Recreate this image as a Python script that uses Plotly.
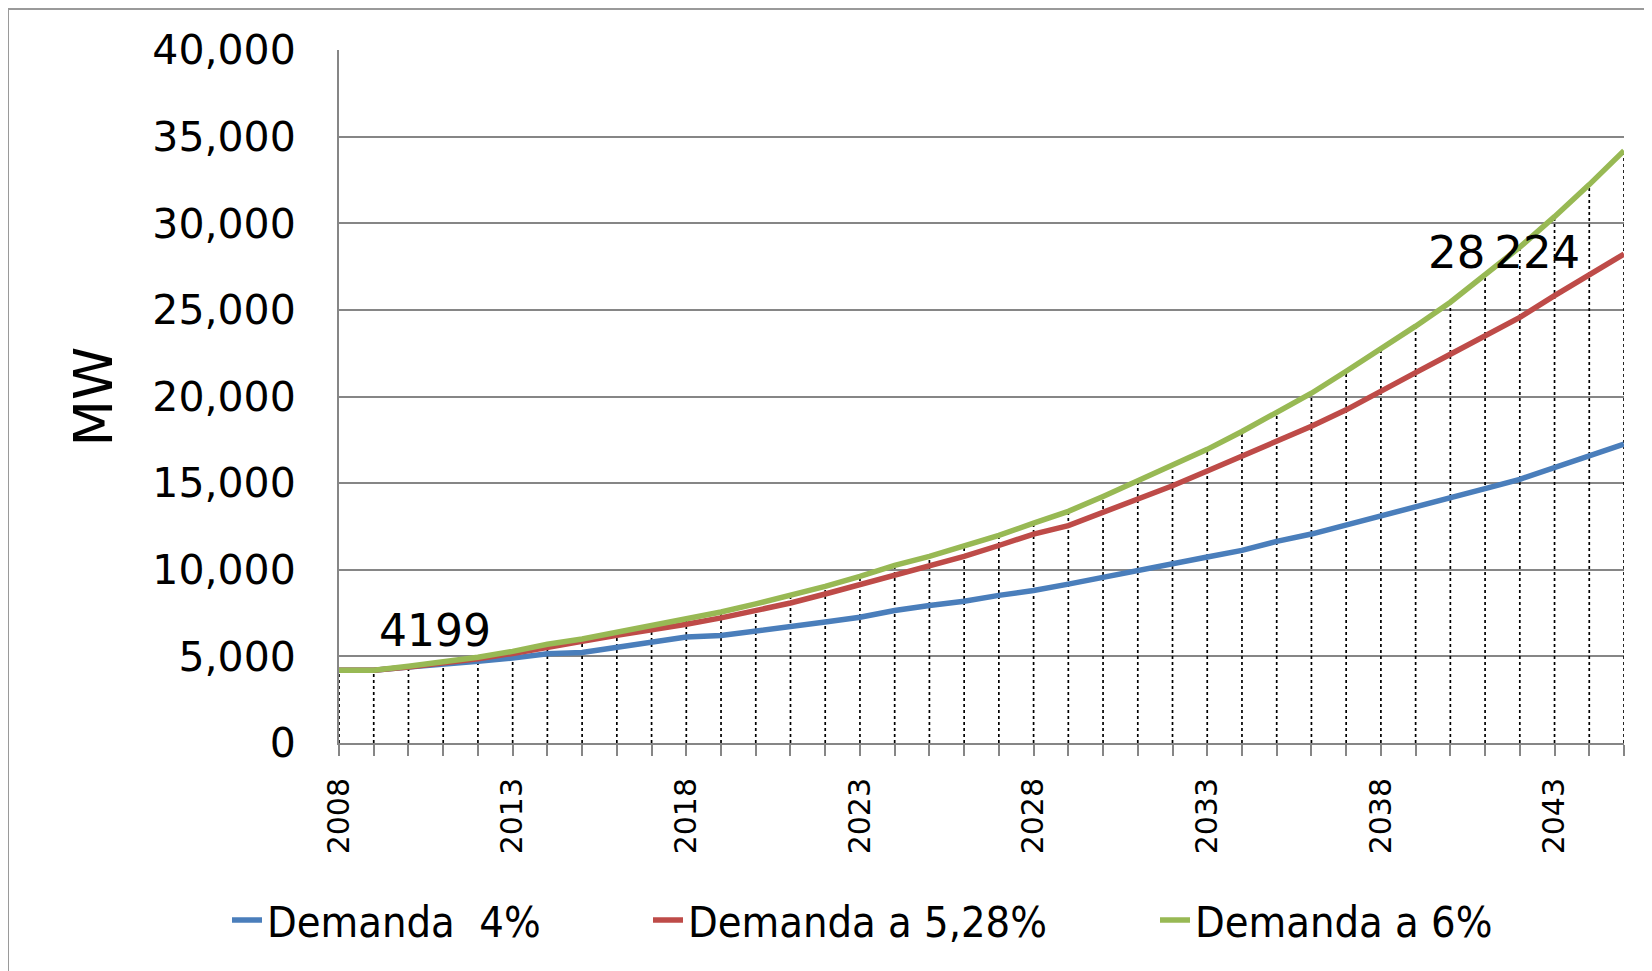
import plotly.graph_objects as go

# years on the x axis
years = list(range(2008, 2046))

# demand scenarios, MW
demanda_4 = [4199, 4199, 4380, 4580, 4720, 4900, 5150, 5220, 5520, 5820,
             6120, 6200, 6440, 6730, 6990, 7260, 7650, 7940, 8180, 8520,
             8800, 9170, 9580, 9960, 10350, 10740, 11120, 11640, 12060, 12570,
             13090, 13620, 14150, 14680, 15220, 15920, 16570, 17250]
demanda_528 = [4199, 4199, 4380, 4610, 4860, 5170, 5550, 5870, 6220, 6500,
               6850, 7220, 7650, 8080, 8600, 9130, 9670, 10190, 10770, 11400,
               12060, 12550, 13310, 14080, 14850, 15700, 16560, 17420, 18280, 19230,
               20350, 21380, 22440, 23500, 24570, 25820, 27060, 28224]
demanda_6 = [4199, 4199, 4430, 4680, 4950, 5290, 5700, 6000, 6380, 6750,
             7170, 7560, 8030, 8500, 9040, 9620, 10250, 10770, 11350, 11980,
             12690, 13370, 14230, 15120, 16060, 16950, 17980, 19080, 20190, 21460,
             22750, 24060, 25440, 26980, 28620, 30380, 32230, 34190]

names = ["Demanda  4%", "Demanda a 5,28%", "Demanda a 6%"]
colors = ["#4A7EBB", "#BE4B48", "#98B954"]
tick_labels = [str(y) if (y - 2008) % 5 == 0 else "" for y in years]

# plot area in figure pixels (page body adds 8px offset)
L, T, W, H = 331, 42, 1285, 693

fig = go.Figure()

# drop lines from the highest series down to the axis
dx, dy = [], []
for i, yr in enumerate(years):
    top = max(demanda_4[i], demanda_528[i], demanda_6[i])
    dx += [yr, yr, None]
    dy += [0, top, None]
fig.add_trace(go.Scatter(x=dx, y=dy, mode="lines", showlegend=False,
                         hoverinfo="skip",
                         line=dict(color="black", width=1.7, dash="dot")))

series = [demanda_4, demanda_528, demanda_6]
legends = ["legend", "legend2", "legend3"]
for vals, nm, col, lg in zip(series, names, colors, legends):
    fig.add_trace(go.Scatter(x=years, y=vals, mode="lines", name=nm,
                             line=dict(color=col, width=5.5), legend=lg))

# data labels
fig.add_annotation(x=years[0], y=demanda_528[0], text="4199", showarrow=False,
                   xanchor="left", yanchor="middle", xshift=38, yshift=40,
                   font=dict(family="DejaVu Sans", size=44, color="black"))
fig.add_annotation(x=years[-1], y=demanda_528[-1], text="28\u2009224", showarrow=False,
                   xanchor="right", yanchor="middle", xshift=-42, yshift=2,
                   font=dict(family="DejaVu Sans", size=45, color="black"))

fig.add_annotation(x=(85 - L) / W, y=0.5, xref="paper", yref="paper", text="MW",
                   showarrow=False, textangle=-90, xanchor="center", yanchor="middle",
                   font=dict(family="DejaVu Sans", size=54, color="black"))

# outer frame
fig.add_shape(type="rect", xref="paper", yref="paper", layer="below",
              x0=(0 - L) / W, x1=1.2, y0=-0.6, y1=1 + (T - 1) / H,
              line=dict(color="#9a9a9a", width=2), fillcolor="white")

leg_font = dict(family="DejaVu Sans Condensed, Liberation Sans Narrow, DejaVu Sans",
                size=43, color="black")
leg_common = dict(orientation="h", yanchor="middle", xanchor="left",
                  y=-(912 - T - H) / H, font=leg_font, bgcolor="rgba(0,0,0,0)")

fig.update_layout(
    width=1652, height=971,
    margin=dict(l=L, r=1652 - L - W, t=T, b=971 - T - H),
    paper_bgcolor="white", plot_bgcolor="white",
    legend=dict(x=(219 - L) / W, **leg_common),
    legend2=dict(x=(640 - L) / W, **leg_common),
    legend3=dict(x=(1147 - L) / W, **leg_common),
    xaxis=dict(range=[2008, 2045], tickvals=years, ticktext=tick_labels,
               tickangle=-90, ticks="outside", ticklen=11, tickwidth=2,
               tickcolor="#868686", showgrid=False, zeroline=False,
               showline=True, linecolor="#868686", linewidth=2,
               ticklabelstandoff=10,
               tickfont=dict(family="DejaVu Sans", size=30, color="black")),
    yaxis=dict(range=[0, 40000], dtick=5000, tickformat=",d",
               showgrid=True, gridcolor="#868686", gridwidth=2,
               zeroline=False, showline=True, linecolor="#868686", linewidth=2,
               ticks="", ticklabelstandoff=33,
               tickfont=dict(family="DejaVu Sans", size=41, color="black")),
)

fig.write_html("out.html")
